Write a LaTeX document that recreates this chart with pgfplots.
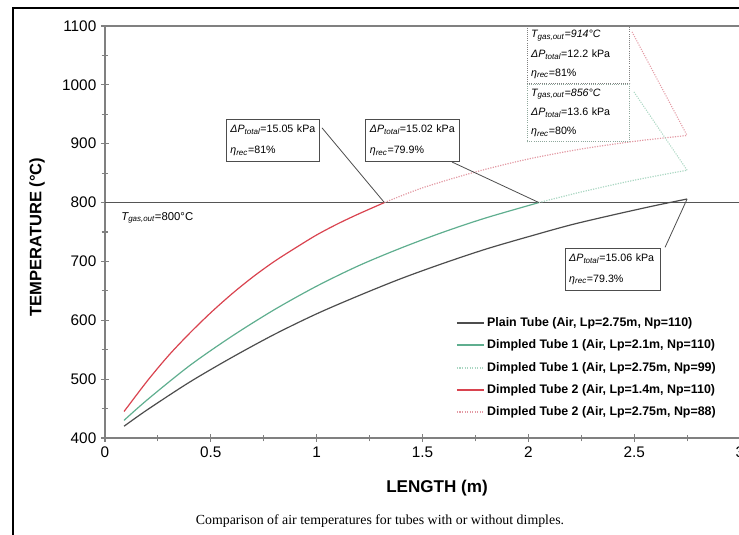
\documentclass[border=0pt]{standalone}
\usepackage{pgfplots}
\pgfplotsset{compat=1.18}
\usepackage{fontspec}
\setmainfont{Liberation Sans}
\newfontfamily\capfont{Liberation Serif}
\definecolor{cplain}{HTML}{4D4D4D}
\definecolor{cline}{HTML}{555555}
\definecolor{cgreen}{HTML}{5FAE8F}
\definecolor{cgreenl}{HTML}{A9D6C2}
\definecolor{cred}{HTML}{D9434F}
\definecolor{credl}{HTML}{E39AA4}
\definecolor{caxis}{HTML}{808080}
\definecolor{cbox}{HTML}{8FA89C}
\begin{document}
\begin{tikzpicture}[x=0.75pt,y=0.75pt]
\useasboundingbox (-105,-97) rectangle (634,438);
\clip (-105,-97) rectangle (634,438);
\draw[line width=1.4pt] (-92,-200) rectangle (800,430);
\begin{axis}[
  at={(0,0)}, anchor=south west, scale only axis,
  width=476.25pt, height=309pt,
  xmin=0, xmax=3, ymin=400, ymax=1100,
  xtick={0,0.5,1,1.5,2,2.5,3}, ytick={400,500,600,700,800,900,1000,1100},
  yticklabels={400,500,600,700,800,900,1000,1100},
  minor x tick num=1, minor y tick num=1,
  tick align=center, xtick pos=bottom, ytick pos=left,
  major tick length=6pt, minor tick length=5pt,
  axis line style={caxis, line width=0.8pt},
  every tick/.style={caxis, line width=0.8pt},
  ticklabel style={font=\fontsize{11.5}{13}\selectfont},
  /pgf/number format/assume math mode=true,
  clip=false,
  legend style={at={(axis description cs:0.546,0.306)}, anchor=north west, draw=none, fill=none,
    font=\bfseries\fontsize{9.3}{11}\selectfont, row sep=4.5pt, cells={anchor=west}},
  legend image code/.code={\draw[#1, line width=1.4pt] (0pt,0pt) -- (20pt,0pt);},
]
\addplot[color=cline, line width=0.9pt, forget plot] coordinates {(0,800) (3,800)};
\addplot[color=cplain, line width=0.9pt, smooth] coordinates {(0.09,420)(0.2,448)(0.4,495)(0.6,537)(0.8,576)(1.0,611)(1.2,642)(1.4,671)(1.6,697)(1.8,721)(2.0,742)(2.2,762)(2.4,779)(2.6,795)(2.75,806)};
\addlegendentry{Plain Tube (Air, Lp=2.75m, Np=110)}
\addplot[color=cgreen, line width=0.9pt, smooth] coordinates {(0.09,430)(0.2,465)(0.4,523)(0.6,573)(0.8,618)(1.0,658)(1.2,693)(1.4,723)(1.6,750)(1.8,774)(2.05,800)};
\addlegendentry{Dimpled Tube 1 (Air, Lp=2.1m, Np=110)}
\addplot[color=cgreenl, line width=0.9pt, densely dotted, smooth] coordinates {(2.05,800)(2.25,818)(2.5,838)(2.75,855)};
\addlegendentry{Dimpled Tube 1 (Air, Lp=2.75m, Np=99)}
\addplot[color=cred, line width=0.9pt, smooth] coordinates {(0.09,445)(0.2,497)(0.3,540)(0.4,578)(0.5,613)(0.6,645)(0.7,674)(0.8,700)(0.9,723)(1.0,745)(1.1,764)(1.2,781)(1.32,800)};
\addlegendentry{Dimpled Tube 2 (Air, Lp=1.4m, Np=110)}
\addplot[color=credl, line width=0.9pt, densely dotted, smooth] coordinates {(1.32,800)(1.5,825)(1.75,852)(2.0,874)(2.25,891)(2.5,904)(2.75,914)};
\addlegendentry{Dimpled Tube 2 (Air, Lp=2.75m, Np=88)}
% annotations
\draw[cplain, line width=0.6pt] (axis cs:1.025,927) -- (axis cs:1.32,800);
\draw[cplain, line width=0.6pt] (axis cs:1.639,869) -- (axis cs:2.05,800);
\draw[credl, line width=0.8pt, densely dotted] (axis cs:2.49,1090) -- (axis cs:2.75,914);
\draw[cgreenl, line width=0.8pt, densely dotted] (axis cs:2.499,988) -- (axis cs:2.75,855);
\draw[cplain, line width=0.6pt] (axis cs:2.646,724) -- (axis cs:2.75,806);
\node[draw=cplain, line width=0.6pt, fill=white, text width=64pt, minimum height=32pt, inner xsep=3pt, align=left, font=\fontsize{8}{16}\selectfont] at (axis cs:0.794,905.5)
  {{\itshape ΔP}\textsubscript{\itshape total}=15.05 kPa\\{\itshape η}\textsubscript{\itshape rec}=81\%};
\node[draw=cplain, line width=0.6pt, fill=white, text width=64pt, minimum height=32pt, inner xsep=3pt, align=left, font=\fontsize{8}{16}\selectfont] at (axis cs:1.453,905.5)
  {{\itshape ΔP}\textsubscript{\itshape total}=15.02 kPa\\{\itshape η}\textsubscript{\itshape rec}=79.9\%};
\node[draw=caxis, line width=0.6pt, densely dotted, text width=71pt, minimum height=43pt, inner xsep=3pt, align=left, font=\fontsize{8}{14.5}\selectfont] at (axis cs:2.237,1051.6)
  {{\itshape T}\textsubscript{\itshape gas,out}{\itshape =914°C}\\{\itshape ΔP}\textsubscript{\itshape total}=12.2 kPa\\{\itshape η}\textsubscript{\itshape rec}=81\%};
\node[draw=cbox, line width=0.6pt, densely dotted, text width=71pt, minimum height=43pt, inner xsep=3pt, align=left, font=\fontsize{8}{14.5}\selectfont] at (axis cs:2.237,952.2)
  {{\itshape T}\textsubscript{\itshape gas,out}{\itshape =856°C}\\{\itshape ΔP}\textsubscript{\itshape total}=13.6 kPa\\{\itshape η}\textsubscript{\itshape rec}=80\%};
\node[draw=cplain, line width=0.6pt, fill=white, text width=65pt, minimum height=31.5pt, inner xsep=3pt, align=left, font=\fontsize{8}{16}\selectfont] at (axis cs:2.398,687)
  {{\itshape ΔP}\textsubscript{\itshape total}=15.06 kPa\\{\itshape η}\textsubscript{\itshape rec}=79.3\%};
\node[anchor=west, font=\fontsize{8.5}{10}\selectfont] at (axis cs:0.055,774)
  {{\itshape T}\textsubscript{\itshape gas,out}=800°C};
\end{axis}
\node[font=\bfseries\fontsize{12.8}{14}\selectfont] at (332,-50) {LENGTH (m)};
\node[font=\bfseries\fontsize{12.4}{14}\selectfont, rotate=90] at (-68,201) {TEMPERATURE (°C)};
\node[font=\capfont\fontsize{10.4}{12}\selectfont] at (275,-83) {Comparison of air temperatures for tubes with or without dimples.};
\end{tikzpicture}
\end{document}
